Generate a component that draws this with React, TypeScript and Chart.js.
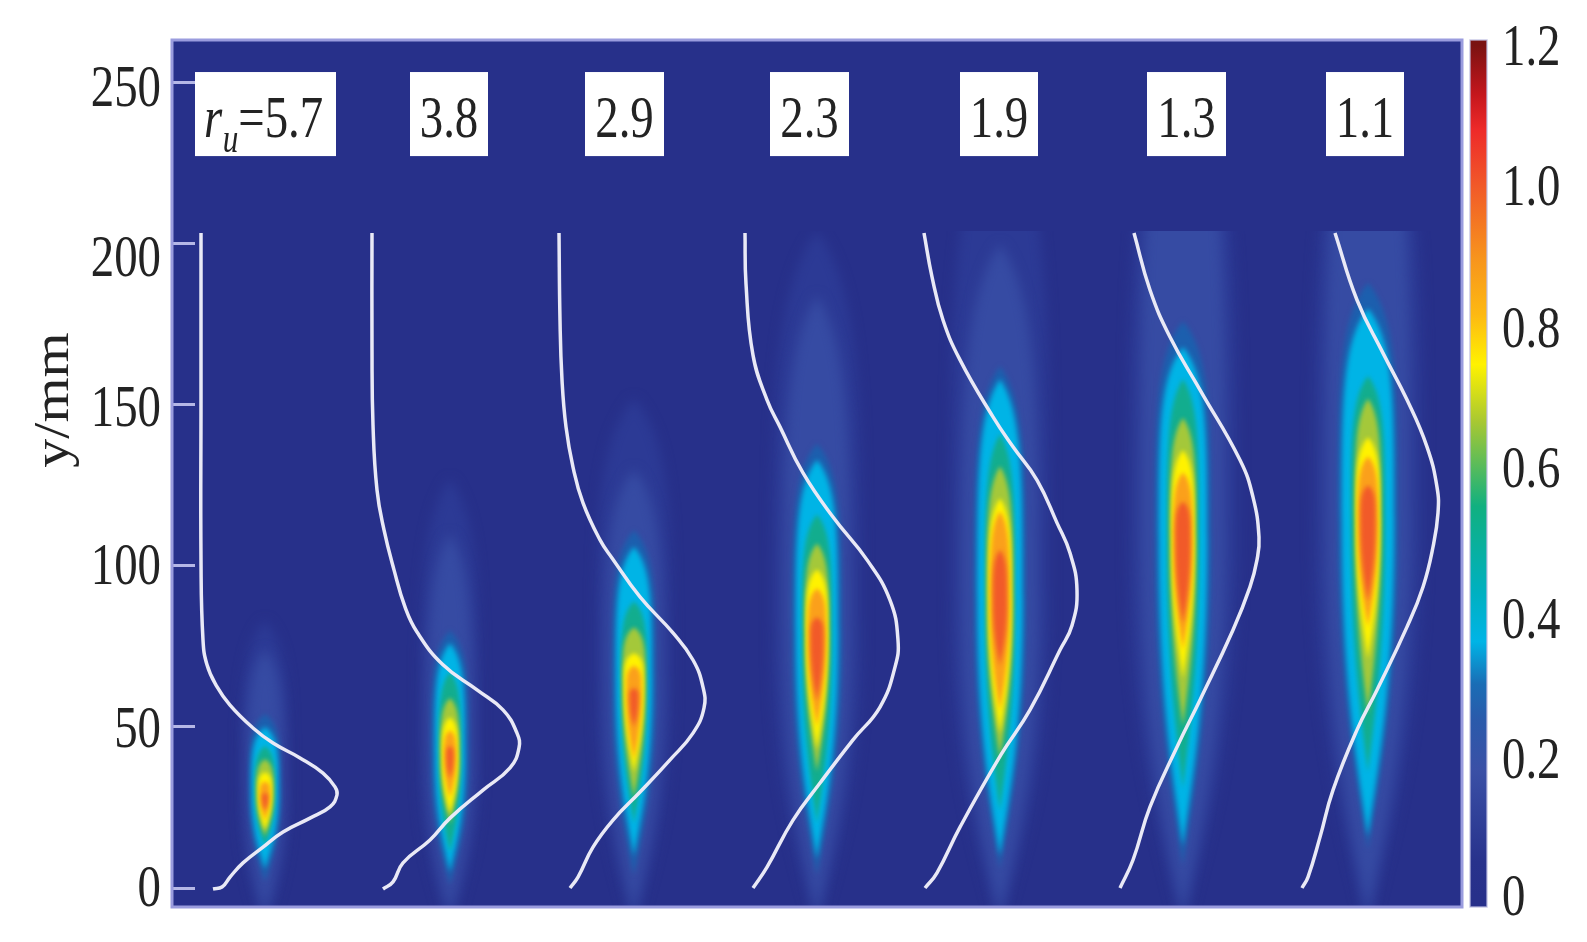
import React, { useEffect, useRef } from "react";
import { Chart, registerables } from "chart.js";

Chart.register(...registerables);

// ---- y axis and colour bar
const yTickValues = [0, 50, 100, 150, 200, 250];
const colorTickValues = [0, 0.2, 0.4, 0.6, 0.8, 1.0, 1.2];
const colorTickLabels = ["0", "0.2", "0.4", "0.6", "0.8", "1.0", "1.2"];
const colorStopValues = [0, 0.05, 0.18, 0.25, 0.3, 0.36, 0.43, 0.55, 0.67, 0.75, 0.82, 0.9, 1.0, 1.08, 1.13, 1.2];
const colorStopColors = ["#27308a", "#28328c", "#3a50a6", "#2a5aab", "#1a6db5", "#00b4e6", "#00b0c0", "#10b080", "#a8c832", "#fff200", "#fdb913", "#f7941d", "#f15a29", "#ee2a2a", "#c5161d", "#7a1212"];

// ---- labels over the plumes
const ratioLabels = ["5.7", "3.8", "2.9", "2.3", "1.9", "1.3", "1.1"];
const boxLeft = [195, 410, 585, 770, 960, 1147, 1326];
const boxRight = [336, 488, 664, 849, 1038, 1226, 1404];
const boxTopMm = 253.4;
const boxBottomMm = 227.3;

// ---- white profiles, one pair of arrays per case (x: horizontal position, y: mm)
const curve1X = [201, 201, 201, 203, 207, 216, 230, 253, 273, 300, 323, 335, 337, 330, 310, 283, 263, 243, 230, 222, 213];
const curve1Y = [203.4, 151.6, 101.9, 77, 69.3, 63, 56.8, 49.7, 45, 40.4, 35.7, 31.4, 28.9, 25.2, 21.7, 17.4, 12.7, 7.8, 3.4, 0.3, -0.3];
const curve2X = [372, 372, 373, 377, 384, 394, 405, 417, 443, 477, 503, 517, 519, 510, 483, 450, 430, 403, 393, 383];
const curve2Y = [203.4, 167.1, 143.8, 123.6, 111.2, 98.8, 87.3, 79.5, 69.3, 61.5, 55.3, 48.1, 43.5, 37.3, 30.4, 21.7, 14.9, 7.8, 1.9, -0.3];
const curve3X = [559, 560, 562, 566, 573, 583, 600, 612, 640, 673, 693, 703, 704, 693, 670, 640, 613, 593, 578, 570];
const curve3Y = [203.4, 176.4, 157.8, 143.2, 130.7, 119.6, 108.1, 102.5, 90.4, 79.2, 70.8, 62.4, 55.9, 48.1, 39.8, 29.8, 21.1, 12.7, 3.4, 0];
const curve4X = [745, 746, 753, 767, 780, 803, 833, 867, 890, 898, 895, 880, 853, 820, 793, 767, 753];
const curve4Y = [203.4, 187.6, 165.5, 151.6, 143.2, 128.9, 115.2, 101.9, 89.4, 77, 68.6, 56.2, 46, 32.6, 21.1, 6.5, 0];
const curve5X = [924, 932, 943, 960, 993, 1013, 1037, 1057, 1070, 1077, 1072, 1060, 1030, 1001, 960, 937, 925];
const curve5Y = [203.4, 189.8, 176.4, 164, 146.3, 137, 126.7, 113.4, 104, 92.5, 81.5, 73.9, 55.3, 41.4, 18.9, 4.7, 0];
const curve6X = [1134, 1150, 1170, 1200, 1240, 1253, 1259, 1257, 1250, 1233, 1200, 1177, 1150, 1133, 1120];
const curve6Y = [203.4, 185.7, 171.1, 154.7, 132.9, 121.4, 109, 101.9, 93.5, 80.1, 58.4, 43.8, 25.2, 8.7, 0];
const curve7X = [1335, 1357, 1383, 1407, 1427, 1437, 1438, 1433, 1423, 1407, 1377, 1357, 1333, 1320, 1308, 1302];
const curve7Y = [203.4, 182.6, 166.1, 151.6, 137, 124.5, 116.5, 105.9, 93.5, 81.1, 61.5, 49.1, 30.4, 15.8, 3.4, 0];
const curvesX = [curve1X, curve2X, curve3X, curve4X, curve5X, curve6X, curve7X];
const curvesY = [curve1Y, curve2Y, curve3Y, curve4Y, curve5Y, curve6Y, curve7Y];

// ---- field contours: levels, then for each case the axis position and each level's extent
const contourLevels = [0.08, 0.18, 0.28, 0.36, 0.5, 0.67, 0.75, 0.87, 1.0];
const contourColors = ["#2c3a95", "#364ba3", "#1c5fae", "#00b4e6", "#12ad8e", "#a4c83a", "#fff200", "#fba01b", "#f15a29"];
const plumeCenters = [265, 450, 634, 817, 1000, 1183, 1368];
const plumeWidestMm = [30, 41, 64, 79, 89, 108, 114];
const fieldTopMm = 204;
const tops1 = [83, 74, 54, 50, 44, 40, 36, 33, 29.5];
const bots1 = [-13, -8, 2, 6, 13, 16, 18, 21, 24];
const half1 = [24, 18, 16, 13.5, 10, 8.5, 7, 5, 3];
const tops2 = [127, 110, 80, 76, 67, 59, 53, 49, 44];
const bots2 = [-13, -8, 1, 5, 11, 20, 23, 28, 34];
const half2 = [30, 22, 19, 15, 11, 9.5, 8, 6, 3.5];
const tops3 = [152, 130, 111, 106, 89, 81, 73, 69, 62];
const bots3 = [-13, -8, 4, 10, 20, 28, 36, 40, 50];
const half3 = [38, 28, 22, 18, 13, 11.5, 10, 7.5, 4.5];
const tops4 = [204, 184, 138, 133, 116, 107, 99, 93, 84];
const bots4 = [-13, -8, 4, 9, 20, 36, 43, 50, 58];
const half4 = [45, 33, 25, 21, 15, 12, 11, 9, 6.5];
const tops5 = [245, 200, 162, 158, 141, 131, 121, 117, 105];
const bots5 = [-13, -8, 6, 10, 24, 40, 48, 55, 69];
const half5 = [50, 38, 26, 22.5, 15, 13, 11.5, 9.5, 7];
const tops6 = [257, 260, 176, 168, 158, 146, 136, 129, 120];
const bots6 = [-13, -8, 7, 13, 31, 50, 65, 74, 82];
const half6 = [55, 42, 28, 24, 16, 13, 11.5, 9.5, 7.5];
const tops7 = [257, 260, 188, 180, 159, 152, 140, 134, 125];
const bots7 = [-13, -8, 12, 16, 36, 54, 71, 81, 89];
const half7 = [55, 42, 30, 26, 17, 13, 12, 10, 7.5];
const plumeTops = [tops1, tops2, tops3, tops4, tops5, tops6, tops7];
const plumeBots = [bots1, bots2, bots3, bots4, bots5, bots6, bots7];
const plumeHalf = [half1, half2, half3, half4, half5, half6, half7];

const SERIF = '"Liberation Serif"';
const TEXT = "#232323";
const STRETCH = 0.78;
const labelNudge: Record<string, Record<string, number>> = {
  y: { "250": 7, "200": 16, "150": 5, "100": 2, "50": 4, "0": 2 },
  cb: { "1.2": 4, "1.0": 2, "0.8": 2, "0.6": 0, "0.4": 9, "0.2": 7, "0": 2 },
};

function wrapText(scale: any, method: string, sx: number, dy: number) {
  const orig = scale[method].bind(scale);
  scale[method] = (area: any) => {
    const ctx = scale.ctx;
    const ft = ctx.fillText;
    ctx.fillText = function (t: string, x: number, y: number) {
      ctx.save();
      ctx.scale(sx, 1);
      ft.call(ctx, t, x / sx, y + (method === "drawLabels" ? labelNudge[scale.id][t] || 0 : 0));
      ctx.restore();
    };
    ctx.save();
    ctx.translate(0, dy);
    orig(area);
    ctx.restore();
    delete ctx.fillText;
  };
}

function fixSize(s: any, width: number) {
  s.width = width;
  s.paddingTop = 0;
  s.paddingBottom = 0;
  s.paddingLeft = 0;
  s.paddingRight = 0;
}

const backdropPlugin = {
  id: "backdrop",
  beforeDraw(chart: any) {
    const { ctx, chartArea: a, scales } = chart;
    const sx = scales.x;
    const sy = scales.y;
    if (!chart.$wrapped) {
      chart.$wrapped = true;
      wrapText(scales.y, "drawLabels", STRETCH, 0);
      wrapText(scales.cb, "drawLabels", STRETCH, 0);
      wrapText(scales.y, "drawTitle", 1.16, -73.5);
    }
    ctx.save();
    ctx.fillStyle = "#27308a";
    ctx.fillRect(a.left, a.top, a.right - a.left, a.bottom - a.top);
    const topPx = sy.getPixelForValue(fieldTopMm);
    ctx.beginPath();
    ctx.rect(a.left, topPx, a.right - a.left, a.bottom - topPx);
    ctx.clip();
    plumeCenters.forEach((center, p) => {
      const cx = sx.getPixelForValue(center);
      contourLevels.forEach((_, i) => {
        const tMm = plumeTops[p][i];
        const bMm = plumeBots[p][i];
        const span = tMm - bMm;
        const wMm = Math.min(tMm - 0.25 * span, Math.max(bMm + 0.25 * span, plumeWidestMm[p]));
        const t = sy.getPixelForValue(tMm);
        const b = sy.getPixelForValue(bMm);
        const w = sy.getPixelForValue(wMm);
        const hw = sx.getPixelForValue(center + plumeHalf[p][i]) - cx;
        ctx.filter = i < 2 ? "blur(6px)" : i < 4 ? "blur(2.5px)" : "blur(2px)";
        ctx.fillStyle = contourColors[i];
        ctx.beginPath();
        ctx.moveTo(cx, t);
        ctx.bezierCurveTo(cx + hw, t + (w - t) * 0.15, cx + hw, w - (w - t) * 0.55, cx + hw, w);
        ctx.bezierCurveTo(cx + hw, w + (b - w) * 0.5, cx + hw * 0.45, b - (b - w) * 0.25, cx, b);
        ctx.bezierCurveTo(cx - hw * 0.45, b - (b - w) * 0.25, cx - hw, w + (b - w) * 0.5, cx - hw, w);
        ctx.bezierCurveTo(cx - hw, w - (w - t) * 0.55, cx - hw, t + (w - t) * 0.15, cx, t);
        ctx.closePath();
        ctx.fill();
      });
    });
    ctx.restore();
  },
  afterDatasetsDraw(chart: any) {
    const { ctx, chartArea: a, scales } = chart;
    const sx = scales.x;
    const sy = scales.y;
    const cb = scales.cb;
    // frame
    ctx.save();
    ctx.strokeStyle = "#9a9cde";
    ctx.lineWidth = 3;
    ctx.strokeRect(a.left, a.top, a.right - a.left, a.bottom - a.top);
    // colour bar
    const top = cb.getPixelForValue(cb.max);
    const bottom = cb.getPixelForValue(cb.min);
    const grad = ctx.createLinearGradient(0, cb.getPixelForValue(0), 0, cb.getPixelForValue(1.2));
    colorStopValues.forEach((v, i) => grad.addColorStop(v / 1.2, colorStopColors[i]));
    ctx.fillStyle = grad;
    ctx.fillRect(a.right + 8, top, 17, bottom - top);
    ctx.strokeStyle = "rgba(190,190,225,0.8)";
    ctx.lineWidth = 1.5;
    ctx.strokeRect(a.right + 8, top, 17, bottom - top);
    // value boxes
    const by0 = sy.getPixelForValue(boxTopMm);
    const by1 = sy.getPixelForValue(boxBottomMm);
    const midY = (by0 + by1) / 2 + 7;
    ratioLabels.forEach((label, i) => {
      const l = sx.getPixelForValue(boxLeft[i]);
      const r = sx.getPixelForValue(boxRight[i]);
      ctx.fillStyle = "#ffffff";
      ctx.fillRect(l, by0, r - l, by1 - by0);
      ctx.fillStyle = TEXT;
      ctx.textBaseline = "middle";
      ctx.save();
      if (i === 0) {
        ctx.translate(l + 9, midY);
        ctx.scale(STRETCH, 1);
        ctx.textAlign = "left";
        ctx.font = `italic 60px ${SERIF}`;
        ctx.fillText("r", 0, 0);
        ctx.font = `italic 40px ${SERIF}`;
        ctx.fillText("u", 24, 20);
        ctx.font = `60px ${SERIF}`;
        ctx.fillText("=" + label, 44, 0);
      } else {
        ctx.translate((l + r) / 2, midY);
        ctx.scale(STRETCH, 1);
        ctx.textAlign = "center";
        ctx.font = `60px ${SERIF}`;
        ctx.fillText(label, 0, 0);
      }
      ctx.restore();
    });
    ctx.restore();
  },
};

export default function App() {
  const ref = useRef<HTMLCanvasElement | null>(null);
  useEffect(() => {
    if (!ref.current) return;
    const chart = new Chart(ref.current, {
      type: "scatter",
      plugins: [backdropPlugin],
      data: {
        datasets: curvesX.map((xs, c) => ({
          label: "r_u=" + ratioLabels[c],
          data: xs.map((x, i) => ({ x, y: curvesY[c][i] })),
          showLine: true,
          borderColor: "#e9e9f6",
          borderWidth: 3.5,
          tension: 0.45,
          pointRadius: 0,
          fill: false,
        })),
      },
      options: {
        animation: false,
        responsive: false,
        devicePixelRatio: 1,
        layout: { autoPadding: false, padding: { top: 40, bottom: 35, left: 0, right: 0 } },
        plugins: { legend: { display: false }, tooltip: { enabled: false }, title: { display: false } },
        events: [],
        scales: {
          x: { type: "linear", display: false, min: 172, max: 1462 },
          y: {
            type: "linear",
            position: "left",
            min: -5.9,
            max: 263.35,
            afterBuildTicks: (s: any) => { s.ticks = yTickValues.map((value) => ({ value })); },
            afterFit: (s: any) => fixSize(s, 172),
            border: { display: false },
            grid: { drawOnChartArea: false, drawTicks: true, tickLength: -23, color: "#b5b7e6", lineWidth: 3 },
            ticks: {
              autoSkip: false,
              padding: 34,
              color: TEXT,
              font: { family: SERIF, size: 60, lineHeight: 1 },
              callback: (v: any) => String(v),
            },
            title: {
              display: true,
              text: "y/mm",
              color: TEXT,
              font: { family: SERIF, size: 50, lineHeight: 1.2 },
              padding: { top: 25, bottom: 0 },
            },
          },
          cb: {
            type: "linear",
            axis: "y",
            position: "right",
            min: -0.014,
            max: 1.207,
            afterBuildTicks: (s: any) => { s.ticks = colorTickValues.map((value) => ({ value })); },
            afterFit: (s: any) => fixSize(s, 125),
            border: { display: false },
            grid: { display: false, drawTicks: false },
            ticks: {
              autoSkip: false,
              padding: 40,
              color: TEXT,
              font: { family: SERIF, size: 60, lineHeight: 1 },
              callback: (v: any) => colorTickLabels[colorTickValues.findIndex((c) => Math.abs(c - v) < 1e-6)] ?? String(v),
            },
          },
        },
      } as any,
    } as any);
    return () => chart.destroy();
  }, []);
  return (
    <div style={{ position: "fixed", left: 0, top: 0, width: 1587, height: 942, background: "#fff" }}>
      <canvas ref={ref} width={1587} height={942} style={{ display: "block", width: 1587, height: 942, filter: "blur(0.7px)" }} />
    </div>
  );
}
